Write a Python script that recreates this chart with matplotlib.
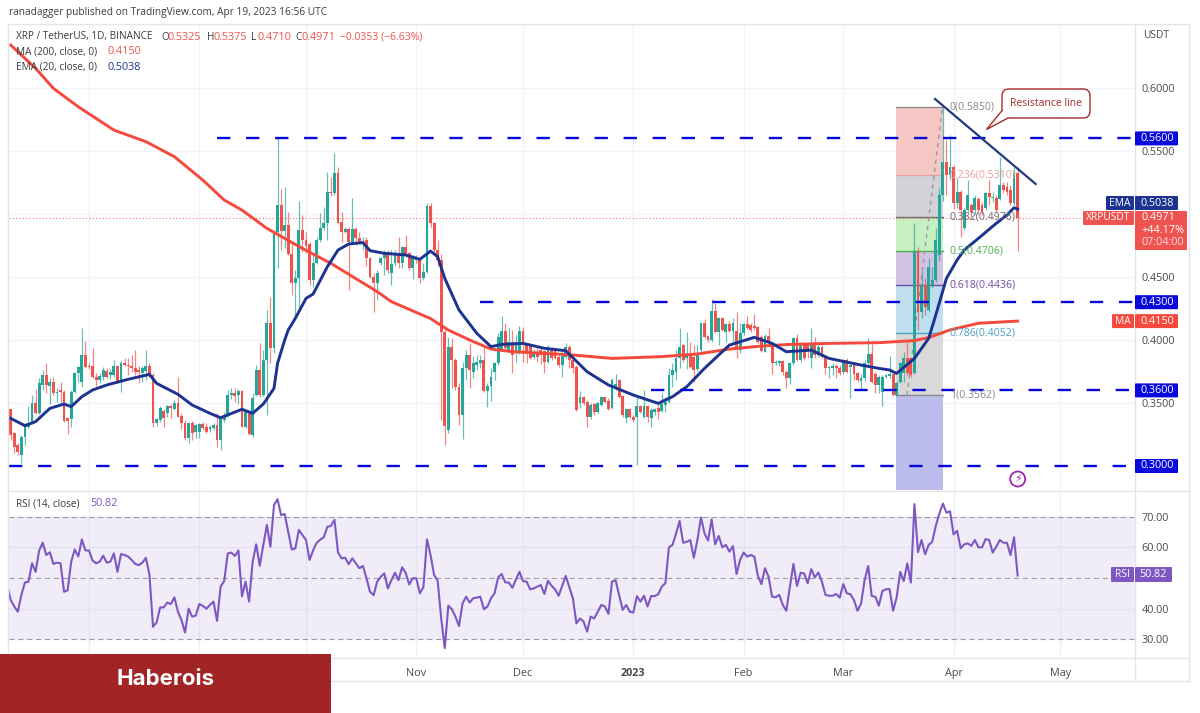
import matplotlib
matplotlib.use('Agg')
import matplotlib.pyplot as plt
import pandas as pd
from matplotlib.patches import FancyBboxPatch, Polygon, Circle, Rectangle

plt.rcParams['font.family'] = ['Open Sans', 'DejaVu Sans']

# daily candles, last one is Apr 19 2023
opens = [
    .345,.326,.317,.309,.323,.331,.334,.350,.342,.364,
    .372,.3635,.367,.358,.360,.3585,.338,.337,.359,.3736,
    .367,.388,.379,.379,.371,.368,.371,.3757,.372,.372,
    .379,.367,.382,.380,.379,.3776,.376,.374,.3757,.3794,
    .372,.334,.3366,.3437,.342,.3477,.3453,.3498,.3397,.3345,
    .322,.334,.3273,.3273,.3334,.3313,.3294,.330,.3326,.3207,
    .3366,.3405,.3564,.3577,.3564,.3598,.3313,.3432,.3247,.3563,
    .3762,.3563,.3841,.4132,.3934,.486,.5071,.4868,.4913,.468,
    .445,.4489,.4873,.4794,.4762,.4476,.4608,.4794,.4886,.4926,
    .5177,.5164,.5323,.4939,.486,.4878,.478,.4878,.4807,.4762,
    .4794,.4648,.4503,.445,.4608,.4648,.4688,.4529,.4608,.4675,
    .4608,.4741,.4688,.4574,.4661,.4635,.4489,.4542,.5063,.4926,
    .4714,.4635,.4066,.3285,.3947,.3841,.3629,.3405,.3775,.388,
    .3748,.3801,.382,.3841,.3597,.3635,.3748,.3814,.3926,.4074,
    .392,.3986,.3894,.3907,.4074,.396,.396,.3862,.3907,.392,
    .3915,.3828,.3933,.392,.3867,.3801,.3862,.3947,.3841,.3788,
    .3497,.3545,.351,.3386,.3489,.3431,.3484,.3545,.3518,.3457,
    .3624,.3682,.3555,.3378,.3449,.3391,.3386,.3476,.3386,.3476,
    .3378,.3431,.3457,.3439,.3484,.351,.3722,.3749,.3854,.396,
    .3854,.389,.3868,.377,.3921,.4132,.4034,.400,.423,.4066,
    .4172,.4066,.4124,.4071,.4071,.3921,.4053,.4124,.4119,.4114,
    .4106,.4026,.3907,.4034,.3973,.3815,.3815,.3833,.3749,.3696,
    .3815,.4018,.3841,.3965,.396,.3854,.3973,.3881,.3947,.3868,
    .3775,.378,.3794,.378,.3743,.3841,.3788,.3801,.3735,.3675,
    .3696,.3815,.3886,.3727,.3643,.359,.3709,.3712,.3727,.3563,
    .3669,.3735,.3854,.3854,.3735,.4701,.4222,.4436,.4237,.4436,
    .4476,.4674,.515,.5415,.5309,.5375,.5084,.5177,.4886,.5031,
    .5071,.5031,.5119,.5071,.5045,.5164,.5124,.5124,.5119,.523,
    .5217,.519,.5084,.5325,
]
highs = [
    .345,.327,.318,.325,.334,.348,.356,.361,.370,.376,
    .3815,.370,.371,.362,.367,.3604,.3387,.360,.375,.3794,
    .4093,.399,.3815,.394,.3736,.3736,.3784,.3776,.3768,.384,
    .380,.383,.3855,.3855,.388,.392,.379,.379,.392,.3815,
    .3736,.338,.3477,.345,.3485,.349,.352,.371,.342,.3366,
    .3345,.336,.3334,.3345,.335,.334,.3326,.334,.342,.338,
    .3432,.3604,.3617,.3617,.361,.3604,.3445,.3445,.3577,.3801,
    .3973,.392,.4238,.4344,.487,.560,.5196,.5212,.5018,.4767,
    .4555,.5103,.4992,.486,.478,.4688,.482,.5011,.5058,.5336,
    .5296,.5487,.5376,.5018,.4899,.490,.5124,.490,.486,.4815,
    .482,.4661,.453,.4555,.4661,.4714,.4714,.4714,.4714,.482,
    .4746,.4833,.4701,.4675,.4675,.4648,.4608,.509,.509,.494,
    .4794,.468,.408,.4026,.4013,.3854,.3656,.3829,.392,.3973,
    .3873,.388,.388,.3947,.3655,.3775,.3828,.4052,.419,.4132,
    .4092,.4079,.4039,.4111,.4105,.3973,.3973,.3925,.3933,.3933,
    .392,.396,.3947,.3933,.388,.392,.3973,.396,.3854,.3801,
    .3597,.3555,.3523,.3497,.3502,.351,.3555,.355,.3537,.3695,
    .373,.369,.3563,.3457,.3457,.3404,.355,.3484,.3603,.3484,
    .3457,.3457,.3497,.3576,.3545,.3775,.3814,.392,.4092,.3965,
    .4066,.3987,.396,.396,.4137,.4167,.404,.4325,.4291,.4185,
    .4185,.4132,.415,.4177,.422,.4132,.4132,.4193,.4132,.4204,
    .4114,.404,.4045,.4092,.3987,.3841,.3841,.3841,.3762,.3828,
    .4026,.4045,.3987,.3973,.3973,.4092,.4026,.3981,.396,.3881,
    .3796,.3815,.3807,.3801,.3849,.3854,.3807,.3815,.3749,.3727,
    .3841,.4018,.3965,.3749,.3722,.3722,.3727,.3875,.3735,.3674,
    .3827,.3907,.3986,.3867,.4926,.474,.455,.449,.4648,.4582,
    .4886,.5206,.585,.5587,.5627,.539,.5283,.519,.5045,.5269,
    .5084,.515,.5137,.5098,.5177,.5269,.5177,.515,.5455,.5256,
    .5256,.523,.5375,.5375,
]
lows = [
    .321,.310,.309,.302,.317,.330,.333,.341,.341,.360,
    .358,.349,.356,.351,.351,.335,.3255,.331,.358,.367,
    .363,.3776,.3768,.3696,.3636,.3657,.368,.3696,.369,.371,
    .366,.359,.3794,.372,.375,.372,.366,.367,.368,.371,
    .3313,.332,.335,.3313,.3387,.338,.3445,.3387,.329,.3207,
    .3186,.3207,.322,.322,.3286,.3265,.3273,.3286,.3154,.3128,
    .335,.3387,.353,.351,.349,.3307,.330,.3247,.3233,.3555,
    .355,.3555,.3405,.3815,.39,.4569,.4714,.4727,.4675,.4357,
    .4172,.4225,.4701,.4688,.4436,.4423,.4600,.4780,.4873,.4794,
    .5145,.5151,.4921,.478,.4846,.4397,.4767,.4754,.4767,.4714,
    .459,.4489,.4225,.4317,.4595,.4516,.4529,.4436,.459,.4569,
    .4569,.4661,.4555,.4481,.4608,.445,.448,.4529,.4899,.4701,
    .459,.3365,.3167,.3265,.3616,.3603,.3325,.3214,.3682,.3616,
    .3695,.3761,.3775,.359,.3465,.3518,.3682,.3801,.392,.392,
    .3907,.3735,.3828,.389,.3828,.382,.3846,.3846,.3827,.3809,
    .3735,.3815,.3841,.3846,.3788,.3703,.3854,.3775,.3735,.3436,
    .3457,.3484,.3312,.337,.3404,.3417,.3476,.3502,.3444,.3449,
    .3603,.354,.3386,.3343,.3378,.3352,.3008,.3418,.3378,.3352,
    .3312,.3404,.337,.3431,.3431,.3497,.3629,.3682,.3775,.3828,
    .377,.3775,.3664,.3754,.3894,.4013,.3987,.3987,.4053,.396,
    .4071,.3981,.406,.3987,.386,.3894,.404,.4087,.4066,.4079,
    .3973,.3907,.3902,.396,.3727,.3802,.3796,.3722,.3616,.3648,
    .3802,.3833,.3828,.3841,.3854,.378,.3854,.3868,.3854,.3727,
    .3696,.3722,.3701,.3722,.3727,.3735,.3537,.3682,.3664,.3603,
    .3675,.3802,.3656,.3577,.3577,.3479,.3696,.3701,.3556,.3558,
    .3656,.3669,.3722,.3708,.3727,.408,.4175,.42,.4224,.441,
    .4463,.463,.51,.515,.5269,.504,.505,.482,.4873,.5018,
    .4978,.5,.5,.4992,.5031,.5071,.5098,.5018,.5112,.5164,
    .515,.5071,.5071,.471,
]
closes = [
    .325,.315,.311,.323,.333,.334,.350,.342,.366,.372,
    .364,.367,.358,.359,.3585,.336,.3358,.359,.3736,.3784,
    .388,.3784,.3784,.371,.368,.3715,.376,.371,.375,.379,
    .366,.3815,.380,.379,.3776,.375,.375,.3776,.3794,.372,
    .3345,.337,.3458,.338,.3477,.3458,.3498,.339,.334,.322,
    .334,.326,.3326,.3334,.330,.3273,.3313,.3326,.3207,.338,
    .3405,.3564,.3577,.3556,.3598,.3313,.3432,.3255,.3538,.3762,
    .3563,.3841,.4132,.3934,.486,.5071,.4868,.4913,.468,.445,
    .4489,.4873,.4794,.4746,.4476,.4608,.4794,.4886,.4931,.5177,
    .5164,.5323,.4931,.486,.4878,.478,.4878,.4807,.478,.4788,
    .4648,.4503,.445,.4534,.4648,.4693,.4555,.4603,.4675,.4608,
    .4741,.4675,.4574,.4661,.4635,.4489,.4542,.5063,.4926,.4714,
    .4635,.4066,.3317,.3947,.3841,.3629,.3404,.3778,.388,.3761,
    .3814,.3828,.3841,.3597,.3635,.3709,.3814,.4026,.4074,.3933,
    .3986,.388,.3986,.4074,.3973,.3894,.3854,.3894,.3867,.388,
    .3828,.3947,.3854,.3854,.3801,.3873,.3947,.3841,.3775,.3444,
    .3545,.3497,.3386,.3484,.3431,.3497,.3545,.351,.3449,.3682,
    .3648,.355,.3404,.3449,.3386,.3365,.3476,.3431,.3476,.3386,
    .3444,.3449,.3431,.3492,.351,.3722,.3761,.3854,.3947,.3841,
    .3886,.3788,.3762,.3886,.4132,.4026,.400,.423,.4066,.4172,
    .4079,.4124,.4071,.4132,.3947,.4053,.4124,.4092,.4079,.4092,
    .3987,.3913,.4034,.3973,.3815,.3828,.3833,.3749,.3696,.3815,
    .4018,.3841,.3965,.3854,.3907,.3973,.3881,.3947,.3868,.3775,
    .3788,.3794,.378,.3735,.3841,.3743,.3801,.3727,.3682,.3696,
    .3815,.3886,.3664,.3643,.3709,.3709,.372,.3727,.3563,.3656,
    .3814,.3854,.3735,.3722,.4701,.4222,.4436,.426,.4582,.4476,
    .4793,.515,.5415,.531,.5375,.5084,.5177,.5031,.5031,.515,
    .5018,.5124,.5031,.5018,.5164,.5137,.5137,.5031,.523,.519,
    .5177,.5084,.5322,.4971,
]

# moving averages read at the turning points (index = candle number)
ma_days = [0,7,12,19,29,38,46,54,60,65,72,82,90,103,107,118,123,129,135,141,150,158,169,183,193,202,211,219,230,244,254,258,264,272,283]
ma_vals = [.6341,.6156,.5997,.5851,.5666,.5574,.5455,.5269,.5111,.5031,.4886,.4727,.4608,.4384,.4304,.4170,.4079,.400,.3928,.3907,.3894,.3881,.3854,.3868,.3889,.3928,.3952,.3965,.3973,.3979,.3995,.4019,.408,.4133,.415]
ema_days = [0,4,7,11,15,17,20,23,27,33,39,41,47,51,56,59,65,68,71,74,75,77,78,80,83,85,89,92,95,99,101,105,111,115,118,120,122,126,131,135,138,144,150,156,162,168,175,182,186,190,195,202,209,214,218,225,230,239,244,247,249,254,258,260,263,266,268,272,277,280,282,283]
ema_vals = [.3378,.332,.3352,.3457,.3492,.3471,.355,.3603,.3643,.3688,.3727,.3656,.3569,.3484,.3418,.3383,.345,.3418,.3492,.3616,.3815,.3999,.4079,.4172,.433,.4365,.4582,.4714,.4762,.4773,.4709,.4688,.4675,.464,.4706,.4661,.4489,.4238,.4053,.3947,.3965,.3973,.3934,.3915,.3748,.3643,.3563,.3497,.355,.3629,.3775,.396,.4021,.3973,.3907,.392,.3854,.3801,.3775,.3762,.3735,.3854,.4013,.4198,.4489,.4635,.4714,.4807,.4926,.4992,.505,.5038]

rsi_vals = [
    47.7,42.8,40.7,39,44.5,48.5,48.8,54.8,52,59,
    61.5,57.5,58.4,54.6,55,54.8,45.5,46,55.3,59.3,
    57,62.6,59,59,55.7,54.8,55.3,57.3,55,55.3,
    58,52,57.8,57.5,57,55.9,54.6,54.2,55,56.6,
    51,34.1,35.5,40.4,40.4,42,41.5,43.7,39,36.3,
    32.2,40,37.4,37.7,41.5,40.9,40,41.2,42.3,36,
    47.2,49,58,58.3,57.2,59,44,48.8,42.3,55.3,
    61,54,60.8,67.3,60.2,73.8,75.7,70.5,70.9,65,
    59.3,59.7,65.7,64,62.4,55.9,59,61.5,62.5,63.3,
    66.7,67,69,58.3,56.4,56.6,54.5,56.4,54.8,53.2,
    53.9,49.9,45.5,44.4,48.8,50.4,51.5,46.6,49.3,51.7,
    49.3,53.5,51.7,47.9,49.9,49.9,45,47,62.6,57.5,
    51,49.1,36.8,27.1,41,39.8,37.4,34.3,41.7,43.9,
    42,43.4,43.6,43.9,39.8,40.7,43.4,45,50.2,51.3,
    48.6,48.5,46.8,49.5,52,49,48.8,46.3,46.6,47.2,
    47.7,44.8,49.1,47.5,46.3,44.2,47.5,50.7,47,43.4,
    35.2,36.8,35.8,32.5,37.4,36.8,39,41.2,
    40.7,38.3,48.8,49.3,44.5,39.6,41.2,39,38.7,44.1,
    42.3,44.2,40.7,44.1,44.1,44.7,47.2,48.3,60,60.8,
    64.5,68.6,61.5,61.8,62.4,56.6,62.4,69.8,64.6,62.2,
    69.1,61,63.7,60,60.8,58.6,60.4,51.3,55.9,58.3,
    57,57.5,57,50.7,48,53.2,50.4,43.9,43.7,44.5,
    41.2,39.3,47.2,54.6,47.4,51.7,51.5,48.3,52.9,50.2,
    51.8,48.8,44.5,44.2,44.2,44.8,43.6,48,45,44.7,
    42.8,39.3,41.7,49.3,53.9,44.1,43.9,41,45.8,46.3,
    46.4,39.3,43.7,52,49,54.8,48.5,74.1,58.4,62.4,
    57.7,60.8,61.8,67,71,74.3,71.3,71.8,64.2,65.4,
    59.7,61,61.3,60.5,62.4,60,60,62.7,62.4,58.3,
    60.2,62.4,61.5,61.5,57.5,63.3,50.82,
]

fib_levels = [0.585, 0.531, 0.4976, 0.4706, 0.4436, 0.4052, 0.3562]
fib_names = ['0(0.5850)', '0.236(0.5310)', '0.382(0.4976)', '0.5(0.4706)', '0.618(0.4436)', '0.786(0.4052)', '1(0.3562)']
fib_fill = ['#f4c7c5', '#d3d3d7', '#c6efc2', '#cfc2e2', '#bfdff0', '#d9d9d9']
fib_line = ['#8a8a8a', '#e8a09d', '#6f6f6f', '#4caf50', '#6d4fa3', '#4a9fc4', '#8a8a8a']

price_ticks = [0.60, 0.55, 0.50, 0.45, 0.40, 0.35]
price_names = ['0.6000', '0.5500', '', '0.4500', '0.4000', '0.3500']
sr_levels = [0.56, 0.43, 0.36, 0.30]
sr_start = [217, 480, 651, 9]
rsi_ticks = [70, 60, 40, 30]
month_dates = ['2022-08-01', '2022-09-01', '2022-10-01', '2022-11-01', '2022-12-01', '2023-01-01', '2023-02-01', '2023-03-01', '2023-04-01', '2023-05-01']
month_names = ['', '', '', 'Nov', 'Dec', '2023', 'Feb', 'Mar', 'Apr', 'May']

GREEN = '#26a69a'
RED = '#ef5350'
BLUE = '#0808dc'
NAVY = '#1c3390'
MA_RED = '#f4493c'
PURPLE = '#7e57c2'
TXT = '#4a4a4a'
W, H = 1200, 713
PX_DAY = 3.558
X0 = 10.7

n = len(closes)
end_day = pd.Timestamp('2023-04-19')
start_day = end_day - pd.Timedelta(days=n - 1)


def day_x(px):
    return (px - X0) / PX_DAY


def price_y(p):
    return 88 + (0.6 - p) * 1260


def make_ax(top, bottom):
    return fig.add_axes([9 / W, 1 - bottom / H, (1135 - 9) / W, (bottom - top) / H])


fig = plt.figure(figsize=(12, 7.13), dpi=100, facecolor='white')
ax = make_ax(24, 490)
ax2 = make_ax(491, 657)

for a in (ax, ax2):
    a.set_xlim(day_x(9), day_x(1135))
    for s in a.spines.values():
        s.set_visible(False)
    a.yaxis.tick_right()
    a.tick_params(length=0, labelsize=7.8, labelcolor=TXT)

ax.set_ylim(0.6 - (490 - 88) / 1260, 0.6 + (88 - 24) / 1260)
ax2.set_ylim(30 - (657 - 639.3) / 3.065, 70 + (516.7 - 491) / 3.065)

month_pos = [(pd.Timestamp(d) - start_day).days for d in month_dates]
ax.set_xticks(month_pos)
ax.tick_params(axis='x', labelbottom=False)
ax.set_yticks(price_ticks)
ax.set_yticklabels(price_names)
ax.grid(color='#f0f3fa', lw=1, zorder=0)
ax.set_axisbelow(True)
ax2.set_xticks(month_pos)
ax2.set_xticklabels(month_names, fontsize=7.8, color=TXT)
ax2.get_xticklabels()[5].set_fontweight('bold')
ax2.tick_params(axis='x', pad=8)
ax2.set_yticks(rsi_ticks)
ax2.set_yticklabels([f'{v:.2f}' for v in rsi_ticks])
ax2.grid(color='#eef0f7', lw=1, zorder=0)
ax2.set_axisbelow(True)
ax.tick_params(axis='y', pad=4.5)
ax2.tick_params(axis='y', pad=4.5)

# fib block
fib_left, fib_right = day_x(896), day_x(942.5)
for i, col in enumerate(fib_fill):
    ax.fill_between([fib_left, fib_right], fib_levels[i + 1], fib_levels[i], color=col, lw=0, zorder=1)
ax.fill_between([fib_left, fib_right], ax.get_ylim()[0], fib_levels[-1], color='#bcbdec', lw=0, zorder=1)
for lev, col, name in zip(fib_levels, fib_line, fib_names):
    ax.plot([fib_left, fib_right], [lev, lev], color=col, lw=1, zorder=1.5)
    ax.text(day_x(950), lev, name, color=col, fontsize=7.6, va='center', ha='left', zorder=6)
ax.plot([day_x(907), fib_right], [fib_levels[-1], fib_levels[0]], color='#9a9a9a', lw=1, ls=(0, (3, 3)), zorder=1.6)

# current price line
ax.axhline(closes[-1], color=RED, lw=0.8, ls=(0, (1, 2)), alpha=0.8, zorder=2)

# candles
days = list(range(n))
colors = [GREEN if c >= o else RED for o, c in zip(opens, closes)]
ax.vlines(days, lows, highs, colors=colors, lw=0.9, alpha=0.7, zorder=3)
body_h = [max(abs(c - o), 0.0006) for o, c in zip(opens, closes)]
body_b = [min(o, c) for o, c in zip(opens, closes)]
ax.bar(days, body_h, bottom=body_b, width=0.8, color=colors, lw=0, zorder=3.2)

# averages
ax.plot(ma_days, ma_vals, color=MA_RED, lw=2.1, solid_joinstyle='round', zorder=4)
ax.plot(ema_days, ema_vals, color=NAVY, lw=2.1, solid_joinstyle='round', zorder=4.2)

# support / resistance dashes
for lev, start in zip(sr_levels, sr_start):
    ax.plot([day_x(start), day_x(1135)], [lev, lev], color=BLUE, lw=1.7, ls=(0, (5.65, 6.65)),
            dash_capstyle='butt', zorder=5)

# trend line
ax.plot([day_x(935), day_x(1035.7)], [0.5913, 0.5238], color='#22397f', lw=1.6, zorder=5.5)

# rsi pane
ax2.axhspan(30, 70, color=PURPLE, alpha=0.1, lw=0, zorder=1)
for lev in (70, 50, 30):
    ax2.axhline(lev, color='#9a9ca5', lw=0.8, ls=(0, (4.5, 3.5)), zorder=2)
rsi_days = list(range(n - len(rsi_vals), n))
ax2.plot(rsi_days, rsi_vals, color=PURPLE, lw=1.5, solid_joinstyle='round', zorder=3)

# everything else sits on a pixel overlay
ov = fig.add_axes([0, 0, 1, 1], zorder=10)
ov.set_xlim(0, W)
ov.set_ylim(H, 0)
ov.axis('off')
ov.patch.set_alpha(0)

for x0, y0, x1, y1 in [(8, 24, 1189, 24), (8, 490.5, 1189, 490.5), (8, 657.5, 1189, 657.5), (8, 681, 1189, 681),
                       (8, 24, 8, 681), (1135, 24, 1135, 681), (1189, 24, 1189, 681)]:
    ov.plot([x0, x1], [y0, y1], color='#e3e5ec', lw=1)


def label(x, y, s, color=TXT, size=7.8, ha='left', weight='normal'):
    ov.text(x, y, s, color=color, fontsize=size, ha=ha, va='center', fontweight=weight)


def tag(x0, x1, y0, y1, col):
    ov.add_patch(FancyBboxPatch((x0 + 1, y0 + 1), x1 - x0 - 2, y1 - y0 - 2, boxstyle='round,pad=1',
                                fc=col, ec='none', zorder=2))


label(9, 13, 'ranadagger published on TradingView.com, Apr 19, 2023 16:56 UTC', '#3c3c3c', 7.3)
label(16, 37, 'XRP / TetherUS, 1D, BINANCE', '#3c3c3c', 7.2)
label(161, 37, 'O', '#3c3c3c', 7.2)
label(168, 37, '0.5325', RED)
label(206.5, 37, 'H', '#3c3c3c', 7.2)
label(213, 37, '0.5375', RED)
label(251, 37, 'L', '#3c3c3c', 7.2)
label(257, 37, '0.4710', RED)
label(295, 37, 'C', '#3c3c3c', 7.2)
label(301, 37, '0.4971', RED)
label(340, 37, '\u22120.0353 (\u22126.63%)', RED, 7.5)
label(16, 52, 'MA (200, close, 0)', '#3c3c3c', 7.2)
label(107, 52, '0.4150', RED)
label(16, 67, 'EMA (20, close, 0)', '#3c3c3c', 7.2)
label(107, 67, '0.5038', NAVY)
label(16, 504, 'RSI (14, close)', '#3c3c3c', 7.2)
label(90, 504, '50.82', PURPLE)
label(1156, 35, 'USDT', TXT, 7.4, ha='center')

# price tags
for lev in sr_levels:
    y = price_y(lev)
    tag(1135, 1178, y - 7, y + 7, BLUE)
    label(1157, y, f'{lev:.4f}', 'white', ha='center')

# the EMA tag is pushed up by the last price tag, as in the reference
y = 203
tag(1106, 1134, y - 7, y + 7, NAVY)
tag(1135, 1178, y - 7, y + 7, NAVY)
label(1120, y, 'EMA', 'white', 7.4, ha='center')
label(1157, y, '0.5038', 'white', ha='center')

tag(1083, 1134, 211, 225, RED)
label(1108.5, 218, 'XRPUSDT', 'white', 7.4, ha='center')
tag(1135, 1187, 211, 250, RED)
label(1141, 218, '0.4971', 'white')
label(1141, 230.5, '+44.17%', 'white')
label(1141, 242.5, '07:04:00', '#fbdcdb')

y = price_y(0.415)
tag(1112, 1134, y - 7, y + 7, MA_RED)
tag(1135, 1178, y - 7, y + 7, MA_RED)
label(1123, y, 'MA', 'white', 7.4, ha='center')
label(1157, y, '0.4150', 'white', ha='center')

tag(1111, 1134, 567, 582, PURPLE)
tag(1135, 1172, 567, 582, PURPLE)
label(1122.5, 574.5, 'RSI', 'white', 7.4, ha='center')
label(1153.5, 574.5, '50.82', 'white', ha='center')

# callout
DARKRED = '#a52a2a'
ov.add_patch(FancyBboxPatch((1006, 93), 80, 21, boxstyle='round,pad=4,rounding_size=7', fc='white', ec=DARKRED, lw=1, zorder=3))
ov.add_patch(Polygon([(1002.5, 110), (986.5, 129.5), (1008, 118)], closed=False, fc='white', ec=DARKRED, lw=1, zorder=4))
ov.add_patch(Rectangle((1003, 108), 7, 9, fc='white', ec='none', zorder=4.5))
label(1046, 103, 'Resistance line', DARKRED, 7.5, ha='center')

# lightning event mark
ov.add_patch(Circle((1017.7, 479), 7.5, fc='white', ec='#9c27b0', lw=1.3))
ov.text(1017.7, 479, '\u26a1', color='#9c27b0', fontsize=8, ha='center', va='center', family='DejaVu Sans')

# bottom banner
ov.add_patch(Rectangle((0, 654), 331, 59, fc='#a32424', ec='none', zorder=8))
ov.text(166, 679, 'Haberois', color='white', fontsize=16, fontweight='bold', ha='center', va='center',
        family='Inter', zorder=9)

fig.savefig('out.png', dpi=100)
